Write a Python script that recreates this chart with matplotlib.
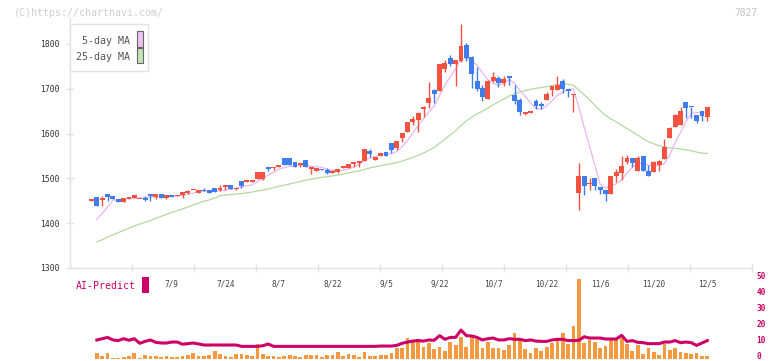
import numpy as np
import matplotlib
matplotlib.use('Agg')
import matplotlib.pyplot as plt
from matplotlib.patches import Rectangle
from matplotlib.transforms import ScaledTranslation

# ---------------- data ----------------
opens = [1450,1458,1452,1465,1461,1454,1448,1455,1457,1454,
         1457,1465,1458,1465,1457,1462,1461,1464,1468,1473,
         1467,1474,1474,1479,1474,1480,1485,1476,1494,1493,
         1493,1499,1499,1525,1523,1525,1546,1545,1537,1530,
         1541,1522,1517,1521,1519,1513,1515,1524,1524,1533,
         1535,1539,1561,1542,1550,1559,1579,1568,1590,1604,
         1626,1630,1654,1668,1698,1696,1745,1769,1756,1762,
         1798,1772,1717,1702,1678,1718,1724,1714,1729,1686,
         1675,1644,1646,1673,1666,1675,1697,1697,1717,1700,
         1686,1468,1505,1487,1501,1481,1475,1466,1505,1512,
         1537,1546,1517,1550,1517,1514,1530,1543,1590,1615,
         1619,1670,1660,1642,1650,1637]
closes = [1451,1439,1456,1459,1454,1448,1456,1459,1463,1455,
          1452,1461,1465,1457,1462,1459,1462,1470,1471,1474,
          1473,1471,1468,1470,1479,1485,1477,1477,1484,1495,
          1494,1514,1514,1521,1525,1530,1530,1529,1525,1534,
          1525,1523,1523,1519,1512,1514,1521,1525,1533,1537,
          1539,1566,1555,1548,1557,1550,1563,1583,1601,1626,
          1633,1646,1659,1679,1689,1755,1758,1756,1764,1796,
          1769,1733,1700,1682,1718,1726,1714,1722,1725,1673,
          1648,1648,1650,1662,1662,1688,1706,1708,1700,1694,
          1688,1505,1484,1488,1482,1473,1466,1505,1514,1528,
          1546,1534,1546,1517,1505,1537,1539,1570,1613,1642,
          1650,1657,1659,1628,1639,1659]
highs = [1451,1459,1461,1465,1461,1454,1456,1459,1463,1455,
         1461,1465,1465,1465,1462,1462,1462,1470,1474,1474,
         1475,1479,1474,1479,1485,1485,1485,1479,1494,1497,
         1494,1514,1514,1525,1525,1530,1546,1545,1537,1534,
         1541,1526,1523,1521,1523,1519,1521,1527,1533,1537,
         1539,1566,1566,1548,1557,1559,1579,1584,1601,1626,
         1639,1648,1661,1715,1700,1755,1765,1775,1764,1845,
         1802,1774,1749,1708,1720,1738,1729,1729,1729,1708,
         1679,1648,1650,1677,1671,1693,1706,1729,1722,1700,
         1688,1534,1505,1501,1501,1481,1475,1505,1521,1550,
         1552,1546,1550,1550,1530,1539,1541,1588,1615,1644,
         1659,1670,1660,1642,1650,1659]
lows = [1450,1439,1439,1450,1454,1448,1448,1455,1457,1454,
        1450,1450,1455,1457,1455,1459,1461,1457,1466,1473,
        1467,1471,1468,1470,1472,1474,1477,1475,1479,1493,
        1493,1499,1496,1517,1519,1525,1530,1529,1525,1526,
        1525,1510,1517,1519,1510,1512,1513,1523,1524,1525,
        1525,1539,1548,1542,1550,1550,1557,1563,1581,1604,
        1619,1604,1637,1657,1669,1696,1738,1752,1706,1760,
        1763,1702,1695,1673,1678,1716,1705,1707,1709,1667,
        1642,1642,1646,1655,1655,1675,1685,1697,1691,1682,
        1649,1430,1464,1473,1473,1466,1450,1466,1493,1496,
        1532,1525,1517,1517,1505,1514,1517,1543,1590,1615,
        1619,1635,1635,1624,1628,1628]

ma5_head = [np.nan, 1409, 1422, 1436]
ma25_head = [np.nan, 1358, 1363, 1369, 1374, 1379, 1384, 1389, 1394, 1398, 1402,
             1406, 1411, 1415, 1420, 1424, 1428, 1432, 1436, 1441, 1445,
             1449, 1452, 1456]

volume = [np.nan, 3.75, 1.9, 3.75, 0.6, 0.6, 1.5, 1.9, 3.75, 0.6, 2.5,
          1.9, 1.9, 1.5, 1.9, 1.5, 1.5, 1.9, 2.5, 3.75, 1.9,
          1.9, 2.5, 5.0, 3.1, 1.9, 1.5, 3.1, 3.1, 2.5, 1.9,
          9.4, 3.1, 1.9, 1.9, 1.5, 1.9, 2.5, 1.9, 1.5, 2.5,
          2.5, 2.5, 1.5, 2.5, 2.5, 4.4, 1.9, 3.1, 2.5, 1.5,
          4.4, 1.9, 1.9,
          2.5, 2.5, 3.75, 6.9, 6.9, 13.1, 11.9, 12.5, 7.5, 10.0,
          6.25, 7.5, 5.0, 10.6, 8.75, 13.75, 7.5, 13.75, 12.5, 6.9,
          10.6, 6.9, 6.9, 5.6, 8.75, 16.25, 13.1, 6.25, 3.75, 6.9,
          5.0, 7.5, 10.0, 11.9, 16.25, 9.4, 20.6, 50.0, 10.0, 11.9,
          10.6, 6.9, 8.1, 11.9, 12.5, 13.1, 9.4, 5.0, 8.75, 3.1,
          6.9, 4.4, 2.5, 9.4, 5.6, 6.9, 4.4, 3.75, 3.1, 3.75,
          1.9, 1.9]

ai_predict = [np.nan, 11.9, 12.7, 13.5, 11.9, 11.5, 12.7, 11.7, 12.7, 9.8, 11.0,
              11.9, 10.4, 10.0, 10.0, 10.6, 10.6, 9.2, 9.6, 10.0, 9.4,
              8.75, 8.75, 8.75, 8.75, 8.75, 8.75, 8.75, 7.9, 7.9, 7.9,
              7.9, 8.3, 9.4, 7.9, 7.9, 7.9, 7.9, 7.9, 7.9, 7.9,
              7.9, 7.9, 7.9, 7.9, 7.9, 7.9, 7.9, 7.9, 7.9, 7.9,
              7.9, 7.9, 7.9, 8.1, 8.1, 8.1, 8.5, 9.8, 10.6, 11.2,
              11.5, 11.2, 11.9, 11.7, 14.6, 12.3, 13.5, 13.5, 18.1, 14.6,
              14.4, 13.5, 11.9, 12.7, 13.1, 11.9, 11.9, 12.7, 12.3, 12.3,
              11.5, 11.9, 11.2, 11.0, 11.0, 11.9, 12.3, 12.3, 11.5, 11.5,
              11.7, 13.9, 13.1, 13.1, 13.1, 12.5, 12.5, 12.5, 14.8, 11.0,
              11.5, 10.4, 10.2, 9.6, 9.6, 9.6, 10.6, 10.6, 11.5, 10.2,
              10.6, 10.2, 8.5, 10.0, 11.5]

date_labels = ['7/9', '7/24', '8/7', '8/22', '9/5', '9/22', '10/7',
               '10/22', '11/6', '11/20', '12/5']
date_label_idx = [15, 25, 35, 45, 55, 65, 75, 85, 95, 105, 115]
price_ticks = [1300, 1400, 1500, 1600, 1700, 1800]
volume_ticks = [0, 10, 20, 30, 40, 50]

# ---------------- derived ----------------
opens = np.array(opens, float); closes = np.array(closes, float)
highs = np.array(highs, float); lows = np.array(lows, float)
n = len(closes)
idx = np.arange(n)
ma5 = np.full(n, np.nan); ma25 = np.full(n, np.nan)
ma5[:len(ma5_head)] = ma5_head
ma25[:len(ma25_head)] = ma25_head
for i in range(len(ma5_head), n):
    ma5[i] = closes[i-4:i+1].mean()
for i in range(len(ma25_head), n):
    ma25[i] = closes[i-24:i+1].mean()

# ---------------- figure ----------------
W, H = 772, 361
fig = plt.figure(figsize=(W/100, H/100), dpi=100)
fig.patch.set_facecolor('white')
mono = 'DejaVu Sans Mono'

def fx(px): return px / W
def fy(py): return 1 - py / H

UP = '#f2523f'
DOWN = '#3f7def'
GRID = '#e2e2e2'
MAG = '#cc0066'

X0, X1 = 70, 752
s = 5.355
xl = (X0 - 91.5) / s
xr = (X1 - 91.5) / s

ax = fig.add_axes([fx(X0), fy(268), fx(X1) - fx(X0), fy(18) - fy(268)])
ax.set_xlim(xl, xr)
ax.set_ylim(1300, 1300 + 250 / 0.448)

# moving averages
ax.plot(idx, ma25, color='#b2d9a2', lw=0.9, zorder=1)
ax.plot(idx, ma5, color='#e8b6ee', lw=0.9, zorder=1)

# candles
col = np.where(closes >= opens, UP, DOWN)
bottom = np.minimum(opens, closes)
height = np.maximum(np.abs(closes - opens), 3.0)
ax.vlines(idx, lows, highs, colors=col, lw=1.0, zorder=2)
ax.bar(idx, height, bottom=bottom, width=0.92, color=col, linewidth=0, zorder=3)

for sp in ['top', 'right']:
    ax.spines[sp].set_visible(False)
for sp in ['left', 'bottom']:
    ax.spines[sp].set_color(GRID)
    ax.spines[sp].set_linewidth(1.0)

ax.set_yticks(price_ticks)
ax.set_yticklabels([str(v) for v in price_ticks], fontfamily=mono, fontsize=5.8,
                   color='#333333')
ax.tick_params(axis='y', direction='inout', length=5.8, width=1.0, color=GRID, pad=4.6)

ax.set_xticks(np.linspace(xl, xr, 12)[1:])
ax.set_xticklabels([])
ax.tick_params(axis='x', which='major', direction='inout', length=6.0, width=1.0, color=GRID)
ax.set_xticks(date_label_idx, minor=True)
ax.set_xticklabels(date_labels, minor=True, fontfamily=mono, fontsize=5.6, color='#444444')
ax.tick_params(axis='x', which='minor', length=0, pad=8.4)

# ---------------- AI-Predict panel ----------------
ax2 = fig.add_axes([fx(X0), fy(359), fx(X1) - fx(X0), (359 - 276) / H])
ax2.set_xlim(xl, xr)
ax2.set_ylim(0, 83 / 1.6)
ax2.bar(idx, volume, width=0.7, color='#f39a40', linewidth=0, zorder=1)
ax2.plot(idx, ai_predict, color=MAG, lw=2.2, zorder=2, solid_joinstyle='round')
for sp in ax2.spines.values():
    sp.set_visible(False)
ax2.set_xticks([])
ax2.yaxis.tick_right()
ax2.set_yticks(volume_ticks)
ax2.set_yticklabels([str(v) for v in volume_ticks], fontfamily=mono, fontsize=5.6,
                    color=MAG, fontweight='bold')
ax2.tick_params(axis='y', length=0, pad=3.0)
shift = ScaledTranslation(0, 3.2 / 100, fig.dpi_scale_trans)
for lab in ax2.get_yticklabels():
    lab.set_transform(lab.get_transform() + shift)
ax2.patch.set_alpha(0)

# ---------------- decorations ----------------
def rect(x0, y0, x1, y1, **kw):
    fig.add_artist(Rectangle((fx(x0), fy(y1)), fx(x1) - fx(x0), fy(y0) - fy(y1),
                             transform=fig.transFigure, **kw))

fig.text(fx(14), fy(12.5), '(C)https://chartnavi.com/', color='#cfcfcf',
         fontfamily=mono, fontsize=7.2, va='center', ha='left')
fig.text(fx(757), fy(12.5), '7827', color='#c4c4c4', fontfamily=mono,
         fontsize=6.9, va='center', ha='right')

# legend box
rect(70.3, 24, 148.3, 71.3, facecolor='white', edgecolor=GRID, lw=1.0, zorder=5)
fig.text(fx(130.5), fy(40.7), '5-day MA', color='#555555', fontfamily=mono,
         fontsize=7.2, va='center', ha='right', zorder=6)
fig.text(fx(130.5), fy(57.3), '25-day MA', color='#555555', fontfamily=mono,
         fontsize=7.2, va='center', ha='right', zorder=6)
rect(136.5, 31.3, 142.5, 46.5, facecolor='#f0c2f0', edgecolor='#666666', lw=0.8, zorder=6)
rect(136.5, 48.5, 142.5, 63.3, facecolor='#c4e3b4', edgecolor='#666666', lw=0.8, zorder=6)

fig.text(fx(76), fy(286), 'AI-Predict', color=MAG, fontfamily=mono,
         fontsize=7.1, va='center', ha='left')
rect(142.3, 276.7, 148.7, 292.7, facecolor=MAG, edgecolor='none', zorder=5)

fig.savefig('out.png', dpi=100, facecolor='white')
